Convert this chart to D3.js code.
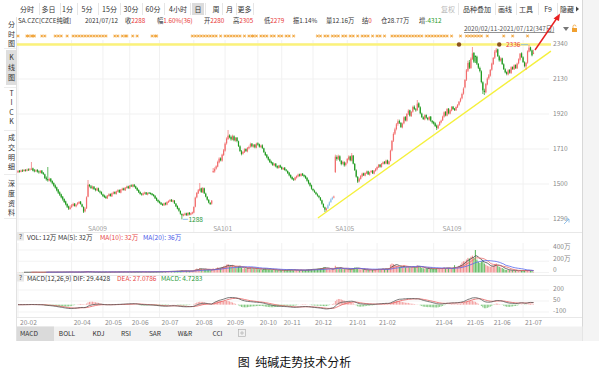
<!DOCTYPE html>
<html><head><meta charset="utf-8">
<script src="https://cdn.jsdelivr.net/npm/d3@7"></script>
<style>body{margin:0;background:#fff;overflow:hidden}svg text{font-family:"Noto Sans CJK SC","Noto Sans",sans-serif}</style>
</head><body><svg id="c" width="599" height="375"></svg>
<script>
// ---- DATA (daily, 2020/02/11 - 2021/07/12, 347 trading days) ----
const closes = [
1578,1572,1580,1576,1584,1580,1586,1582,1588,1592,1580,1576,1582,1574,
1570,1578,1566,1560,1536,1528,1522,1530,1516,1504,1490,1478,1462,1448,1436,1420,1408,1392,1378,1364,1352,1360,
1372,1380,1368,1376,1386,1392,1380,1364,1334,1352,1420,1496,1488,1476,1484,1470,1464,1474,1458,1450,1440,
1428,1422,1416,1430,1438,1428,1444,1450,1442,1456,1462,1450,1466,1472,1464,1478,1484,1476,
1490,1486,1494,1484,1474,1462,1450,1440,1436,1444,1448,1438,1446,1444,1440,1434,1428,1414,1402,1394,
1386,1378,1374,1384,1378,1392,1398,1404,1396,1402,1384,1366,1352,1340,1322,1312,1318,1322,1314,1326,1318,1324,1330,
1362,1418,1446,1462,1472,1452,1476,1444,1424,1406,1388,1380,1400,1578,1590,1606,1632,1652,1642,1676,1702,
1742,1772,1790,1780,1768,1788,1762,1776,1758,1728,1698,1680,1692,1708,1698,1716,1722,1740,1726,1734,1720,1742,
1736,1724,1730,1716,1692,1674,1660,1646,1632,1626,1614,1620,1606,1598,1610,1600,
1590,1596,1584,1580,1566,1552,1540,1530,1526,1540,1548,1556,1550,1560,1552,1546,1536,1520,1504,1490,1472,
1462,1452,1440,1430,1420,1404,1382,1362,1346,1352,1372,1390,1408,1418,1424,1664,1650,1668,1640,1620,1632,1612,1626,
1650,1664,1642,1672,1622,1584,1544,1514,1532,1548,1562,1552,1566,1574,1558,1570,1578,1564,1580,1590,
1602,1614,1604,1622,1630,1624,1640,1622,1636,1700,1758,1800,1828,1858,1876,
1868,1842,1862,1900,1882,1920,1940,1910,1932,1962,1950,1942,1982,1962,1924,1902,1890,1912,1898,1888,1902,1880,1870,
1862,1848,1836,1852,1872,1880,1904,1930,1912,1950,1924,1942,1962,1950,1944,1962,1974,1994,2012,2040,2072,
2124,2182,2226,2198,2252,2284,2234,2262,2222,2198,2178,2112,2062,2052,2100,2132,2152,2184,
2222,2256,2294,2306,2268,2242,2252,2220,2190,2170,2160,2182,2168,2200,2190,2212,2196,2222,2248,2282,2262,
2232,2208,2226,2296,2318,2304,2272,2288];
const opens = [
1570,1580,1574,1582,1578,1584,1580,1588,1584,1590,1594,1582,1576,1584,
1576,1568,1580,1568,1558,1538,1530,1520,1532,1518,1506,1492,1480,1466,1450,1438,1424,1410,1396,1380,1366,1350,
1362,1370,1382,1366,1378,1384,1394,1378,1362,1336,1354,1424,1494,1486,1474,1484,1470,1462,1474,1456,1452,
1438,1430,1424,1414,1428,1440,1426,1442,1452,1440,1454,1464,1448,1464,1474,1462,1476,1486,
1474,1492,1484,1496,1486,1476,1464,1452,1442,1434,1442,1450,1436,1448,1446,1442,1436,1430,1416,1404,
1396,1388,1380,1372,1386,1376,1390,1396,1406,1394,1400,1382,1368,1354,1338,1320,1310,1316,1324,1312,1328,1316,1322,
1328,1364,1420,1444,1460,1474,1450,1474,1442,1422,1404,1386,1382,1572,1576,1592,1604,1630,1654,1640,1674,
1700,1744,1770,1792,1782,1766,1786,1760,1778,1756,1726,1696,1682,1690,1710,1696,1714,1724,1742,1724,1736,1718,
1744,1738,1722,1732,1714,1690,1676,1662,1648,1634,1628,1612,1622,1608,1596,1612,
1602,1588,1598,1586,1578,1568,1554,1542,1532,1524,1538,1546,1558,1548,1562,1554,1548,1538,1522,1506,1492,
1470,1460,1450,1438,1428,1418,1402,1380,1360,1344,1354,1374,1392,1410,1420,1572,1662,1652,1666,1638,1622,1630,1614,
1628,1648,1666,1640,1670,1620,1582,1542,1516,1530,1546,1564,1550,1564,1576,1556,1572,1580,1562,1578,
1588,1600,1616,1602,1620,1632,1622,1642,1620,1640,1702,1760,1802,1830,1860,
1878,1866,1840,1864,1902,1880,1922,1942,1908,1934,1964,1948,1944,1984,1960,1922,1900,1888,1914,1896,1886,1904,1878,
1872,1864,1850,1834,1854,1870,1882,1904,1932,1910,1952,1922,1940,1964,1952,1942,1960,1976,1996,2014,2042,
2080,2126,2180,2230,2196,2250,2286,2268,2264,2220,2196,2176,2110,2060,2050,2098,2134,2150,
2186,2220,2258,2292,2308,2266,2240,2254,2218,2188,2172,2158,2184,2166,2202,2188,2214,2194,2224,2246,2284,
2260,2230,2206,2228,2294,2320,2302,2280];
const highs = [
1584,1584,1586,1588,1590,1590,1592,1594,1596,1632,1598,1590,1588,1590,
1582,1584,1584,1572,1562,1546,1602,1538,1536,1522,1510,1498,1484,1470,1456,1442,1428,1414,1400,1384,1370,1372,
1380,1388,1386,1382,1392,1398,1398,1382,1366,1360,1426,1524,1500,1494,1490,1488,1476,1480,1478,1462,1456,
1442,1436,1430,1434,1444,1444,1448,1456,1456,1460,1468,1468,1470,1478,1478,1482,1490,1490,
1494,1498,1500,1500,1490,1480,1468,1456,1446,1450,1454,1452,1450,1452,1450,1446,1440,1432,1420,1408,
1400,1392,1384,1388,1390,1396,1402,1410,1410,1406,1404,1386,1372,1358,1342,1324,1322,1328,1328,1330,1332,1328,1334,
1366,1424,1452,1470,1506,1478,1482,1478,1448,1428,1410,1392,1404,1596,1600,1612,1640,1660,1660,1682,1710,
1750,1780,1824,1798,1790,1796,1792,1782,1782,1760,1732,1704,1698,1714,1714,1722,1730,1748,1746,1740,1740,1748,
1750,1742,1736,1738,1718,1694,1680,1666,1652,1640,1632,1626,1626,1612,1614,1616,
1606,1600,1602,1590,1582,1572,1558,1546,1536,1544,1552,1562,1562,1566,1566,1558,1552,1540,1526,1510,1496,
1474,1466,1454,1444,1434,1422,1406,1384,1364,1358,1378,1396,1414,1424,1430,1676,1672,1676,1672,1644,1640,1636,1632,
1656,1672,1670,1686,1674,1626,1588,1548,1538,1554,1568,1568,1570,1580,1580,1574,1584,1584,1584,1596,
1606,1620,1620,1626,1636,1638,1646,1646,1640,1706,1764,1810,1838,1866,1888,
1886,1872,1868,1906,1908,1926,1948,1946,1938,1970,1972,1956,2004,1990,1966,1928,1906,1918,1918,1902,1908,1908,1884,
1878,1870,1856,1858,1876,1886,1910,1936,1938,1956,1956,1948,1968,1968,1956,1966,1980,1998,2018,2048,2080,
2130,2190,2240,2244,2260,2322,2292,2272,2270,2226,2204,2182,2116,2072,2106,2140,2160,2190,
2228,2262,2304,2316,2312,2272,2260,2258,2224,2194,2176,2188,2190,2206,2206,2218,2218,2228,2254,2286,2290,
2266,2236,2232,2302,2336,2324,2306,2305];
const lows = [
1566,1568,1570,1572,1574,1574,1576,1578,1580,1584,1576,1570,1572,1568,
1562,1564,1560,1554,1530,1520,1514,1516,1510,1498,1484,1472,1456,1440,1428,1414,1400,1386,1372,1356,1344,1346,
1356,1366,1364,1360,1372,1380,1376,1360,1326,1330,1350,1420,1480,1470,1468,1464,1456,1458,1452,1444,1434,
1422,1416,1410,1410,1424,1424,1422,1438,1438,1436,1450,1446,1444,1460,1460,1458,1472,1470,
1470,1482,1480,1480,1470,1458,1446,1436,1430,1430,1438,1434,1432,1440,1436,1430,1424,1410,1398,1388,
1382,1374,1368,1368,1372,1372,1386,1392,1392,1390,1380,1362,1348,1334,1316,1288,1306,1310,1308,1308,1312,1312,1318,
1324,1360,1414,1440,1456,1446,1446,1440,1420,1400,1384,1374,1376,1566,1568,1586,1600,1624,1636,1634,1668,
1694,1736,1764,1774,1760,1762,1756,1754,1750,1722,1692,1672,1676,1686,1692,1690,1708,1718,1720,1718,1714,1714,
1730,1718,1716,1710,1686,1668,1654,1640,1626,1618,1608,1606,1600,1592,1592,1596,
1584,1584,1580,1574,1560,1546,1534,1524,1518,1520,1532,1540,1544,1544,1548,1540,1530,1514,1498,1484,1466,
1456,1446,1434,1424,1414,1398,1376,1356,1332,1338,1350,1368,1386,1404,1414,1566,1640,1644,1634,1612,1616,1604,1606,
1622,1642,1636,1636,1618,1578,1538,1506,1510,1526,1540,1548,1546,1560,1554,1550,1566,1560,1558,1574,
1582,1596,1598,1598,1616,1618,1618,1618,1614,1636,1696,1752,1794,1822,1850,
1860,1836,1834,1858,1876,1874,1914,1904,1902,1928,1944,1934,1938,1956,1918,1896,1884,1882,1892,1882,1880,1874,1862,
1856,1842,1824,1830,1848,1864,1878,1898,1906,1906,1918,1918,1936,1944,1938,1938,1956,1970,1990,2008,2036,
2074,2118,2172,2190,2190,2244,2226,2226,2214,2190,2170,2104,2040,2034,2044,2092,2126,2144,
2180,2214,2250,2286,2262,2234,2234,2214,2184,2164,2152,2152,2162,2160,2184,2184,2190,2190,2218,2240,2256,
2226,2200,2184,2222,2290,2296,2266,2279];
// volume, unit 万手
const volumes = [
4,3,5,4,6,5,4,6,5,8,6,4,5,4,
5,6,4,5,8,7,9,6,7,8,6,7,9,8,7,9,8,10,9,8,10,9,
8,9,7,8,10,9,8,10,12,15,20,14,10,9,8,9,7,8,9,8,9,
8,9,10,8,9,11,10,12,9,10,11,13,12,10,11,12,10,11,
12,10,11,13,12,14,11,10,12,13,11,12,10,11,13,12,14,13,15,14,
14,16,15,18,16,20,22,18,24,20,22,25,28,24,30,35,28,26,30,24,28,26,30,
40,60,70,55,80,65,50,60,55,45,50,40,48,70,60,75,90,80,85,100,110,
120,140,150,110,100,130,90,95,80,110,120,90,70,80,75,85,80,90,70,75,65,80,
60,55,65,50,70,75,60,55,60,50,45,50,48,40,45,42,
40,38,45,42,50,55,48,45,40,50,42,38,40,45,42,38,44,50,55,52,60,
62,55,60,65,70,75,80,90,95,70,65,60,55,70,60,120,90,80,75,70,65,60,62,
55,60,58,70,80,90,85,70,60,55,50,52,48,50,45,48,50,46,52,55,
60,65,55,62,70,60,72,65,70,140,160,150,130,120,110,
100,110,95,120,90,100,110,95,90,100,95,85,130,120,100,80,75,70,72,68,70,65,66,
70,65,80,75,70,60,80,90,75,85,80,70,75,80,130,90,100,120,140,180,200,
200,230,260,250,280,300,260,400,230,190,170,200,220,160,140,120,110,100,
110,120,150,160,120,100,90,80,65,48,45,44,42,40,38,36,34,33,26,38,34,
36,32,34,40,42,34,32,12];
const monthLabels = ["20-02","20-04","20-05","20-06","20-07","20-08","20-09","20-10","20-11","20-12","21-01","21-02","21-04","21-05","21-06","21-07"];
const monthStartIdx = [0,36,57,75,95,118,139,161,177,198,221,241,279,300,318,339];
const contracts = ["SA009","SA101","SA105","SA109"];
const contractIdx = [47,131,213,285];
const priceTicks = [2340,2130,1920,1710,1500,1290];
const volTicks = [400,200,0];
const volTickLabels = ["400万","200万","0"];
const macdTicks = [200,50,-100];
const eventIdx = [0,6,7,9,10,11,16,18,25,27,29,33,37,39,41,43,45,47,49,51,53,55,57,59,65,67,70,72,73,77,80,90,92,93,117,119,121,123,125,127,129,131,133,136,139,141,143,145,147,149,152,155,157,158,160,163,165,167,170,172,175,177,180,182,185,201,203,206,208,211,213,215,218,220,223,225,228,231,233,235,238,241,243,246,251,253,255,257,259,261,263,265,267,269,271,274,276,278,280,282,284,286,288,291,297,301,303,305,307,309,311,315,326,332,342];
const blueIdx = [208,209,210,211];
const levelPrice = 2337;
const levelDotsIdx = [296,323];
const trendLine = [[201.3,1296],[357.7,2297]];
const periods = ["分时","多日","1分","5分","15分","30分","60分","4小时","日","周","月","更多"];
const tools = ["复权","品种叠加","画线","工具","F9","隐藏"];
const indicatorTabs = ["MACD","BOLL","KDJ","RSI","SAR","W&R","CCI"];
const sideMenu = [["分","时","图"],["K","线","图"],["T","I","C","K"],["成","交","明","细"],["深","度","资","料"]];
// quote row: [label, value, value colour]
const quote = [["SA.CZC[CZCE纯碱]","",""],["2021/07/12","",""],["收","2288","#e83838"],["幅","1.60%(36)","#e83838"],
 ["开","2280","#e83838"],["高","2305","#e83838"],["低","2279","#e83838"],["振","1.14%","#333"],["量","12.16万","#333"],
 ["结","0","#e83838"],["仓","28.77万","#333"],["增","-4312","#1f9a1f"]];

// ---- DRAW ----
const svg = d3.select("#c");
const UP="#f26d6d", DN="#1f9a1f";
const x = d3.scaleLinear().domain([0,346]).range([18,533.5]);
const yP = d3.scaleLinear().domain([1290,2340]).range([219,44]);
const yV = d3.scaleLinear().domain([0,400]).range([272.5,250]);
const yM = d3.scaleLinear().domain([-100,200]).range([312,290]);
const idx = d3.range(closes.length);
const fs = 6.6;

svg.append("rect").attr("width",599).attr("height",375).attr("fill","#fff");
svg.append("rect").attr("x",582.5).attr("y",0).attr("width",17).attr("height",341).attr("fill","#f4f4f4");
svg.append("line").attr("x1",582.5).attr("x2",582.5).attr("y1",0).attr("y2",341).attr("stroke","#d8d8d8");
svg.append("line").attr("x1",16.5).attr("x2",16.5).attr("y1",17).attr("y2",341).attr("stroke","#e2e2e2");

// toolbar row 1
const pCenters=[27,48.5,67.5,87,109.5,131,153,178,198,216,229.5,244.5];
svg.append("rect").attr("x",192).attr("y",3).attr("width",12).attr("height",12).attr("fill","#dcdcdc");
[39,60,77,98,120,142,164,190,205,222,236,253].forEach(v=>svg.append("line").attr("x1",v+0.5).attr("x2",v+0.5).attr("y1",3).attr("y2",15).attr("stroke","#e6e6e6"));
svg.selectAll(".per").data(periods).join("text").attr("x",(d,i)=>pCenters[i]).attr("y",11.5)
  .attr("text-anchor","middle").attr("font-size",7).attr("fill","#333").text(d=>d);
const tCenters=[448,477,505,526,548,567];
[458,495,516,538,557].forEach(v=>svg.append("line").attr("x1",v+0.5).attr("x2",v+0.5).attr("y1",3).attr("y2",15).attr("stroke","#e6e6e6"));
svg.selectAll(".tool").data(tools).join("text").attr("x",(d,i)=>tCenters[i]).attr("y",11.5)
  .attr("text-anchor","middle").attr("font-size",7).attr("fill",(d,i)=>i===0?"#b8b8b8":"#333").text(d=>d);
svg.append("path").attr("d","M576,6.5 L579,9 L576,11.5 Z").attr("fill","#444");

// quote row
const qX=[18,85,125,157,204,233,264,293,326,362,381,419];
quote.forEach((q,i)=>{
  const t=svg.append("text").attr("x",qX[i]).attr("y",23).attr("font-size",6.3).attr("fill","#333");
  t.append("tspan").text(q[0]);
  if(q[1]) t.append("tspan").attr("fill",q[2]).text(q[1]);
});

// side menu
svg.append("rect").attr("x",6).attr("y",50).attr("width",11).attr("height",35).attr("fill","#dedede");
const sideY=[[24,34,43],[57,67,77],[93,102,112,121],[137,147,157,166],[183,193,203,212]];
sideMenu.forEach((g,gi)=>g.forEach((c,ci)=>svg.append("text").attr("x",11.5).attr("y",sideY[gi][ci]+2.5)
  .attr("text-anchor","middle").attr("font-size",7).attr("fill","#333").text(c)));
[48,87,130,174,218].forEach(v=>svg.append("line").attr("x1",4).attr("x2",16).attr("y1",v+0.5).attr("y2",v+0.5).attr("stroke","#ececec"));

// grids
const gMain=svg.append("g");
priceTicks.forEach(p=>gMain.append("line").attr("x1",17).attr("x2",549).attr("y1",yP(p)).attr("y2",yP(p)).attr("stroke","#f1f1f1"));
monthStartIdx.forEach(i=>{
  gMain.append("line").attr("x1",x(i)).attr("x2",x(i)).attr("y1",40).attr("y2",232).attr("stroke","#f1f1f1");
  gMain.append("line").attr("x1",x(i)).attr("x2",x(i)).attr("y1",243).attr("y2",317).attr("stroke","#f1f1f1");
});
volTicks.forEach(v=>gMain.append("line").attr("x1",17).attr("x2",549).attr("y1",yV(v)).attr("y2",yV(v)).attr("stroke","#f3f3f3"));
macdTicks.forEach(v=>gMain.append("line").attr("x1",17).attr("x2",549).attr("y1",yM(v)).attr("y2",yM(v)).attr("stroke","#f3f3f3"));
[232.5,275.5,317.5].forEach(v=>svg.append("line").attr("x1",17).attr("x2",582).attr("y1",v).attr("y2",v).attr("stroke","#e8e8e8"));

// right axis labels
svg.selectAll(".pt").data(priceTicks).join("text").attr("x",553).attr("y",p=>yP(p)+2.3).attr("font-size",fs).attr("fill","#8a8a8a").text(d=>d);
svg.selectAll(".vt").data(volTicks).join("text").attr("x",553).attr("y",v=>yV(v)-0.7).attr("font-size",fs).attr("fill","#8a8a8a").text((d,i)=>volTickLabels[i]);
svg.selectAll(".mt").data(macdTicks).join("text").attr("x",553).attr("y",v=>yM(v)+1.3).attr("font-size",fs).attr("fill","#8a8a8a").text(d=>d);

// level line & trendline
svg.append("line").attr("x1",17).attr("x2",551).attr("y1",yP(levelPrice)).attr("y2",yP(levelPrice)).attr("stroke","#fbf27a").attr("stroke-width",2.6);
levelDotsIdx.forEach(i=>svg.append("circle").attr("cx",x(i)).attr("cy",yP(levelPrice)).attr("r",2.2).attr("fill","#8a5320"));
svg.append("line").attr("x1",x(trendLine[0][0])).attr("y1",yP(trendLine[0][1])).attr("x2",x(trendLine[1][0])).attr("y2",yP(trendLine[1][1]))
  .attr("stroke","#f5f03c").attr("stroke-width",1.4);

// event markers (small asterisks)
svg.selectAll(".ev").data(eventIdx).join("path")
  .attr("d",i=>{const cx=x(i),cy=36;return `M${cx-1.6},${cy}h3.2M${cx-0.9},${cy-1.4}l1.8,2.8M${cx+0.9},${cy-1.4}l-1.8,2.8`;})
  .attr("stroke","#f0a030").attr("stroke-width",0.8).attr("fill","none");

// candles
const gC=svg.append("g");
idx.forEach(i=>{
  const o=opens[i],c=closes[i];
  const col = blueIdx.includes(i) ? "#8cbfe8" : (c>=o?UP:DN);
  const hi=Math.max(highs[i],o,c), lo=Math.min(lows[i],o,c);
  gC.append("line").attr("x1",x(i)).attr("x2",x(i)).attr("y1",yP(hi)).attr("y2",yP(lo)).attr("stroke",col).attr("stroke-width",0.7);
  const t=yP(Math.max(o,c)), b=yP(Math.min(o,c));
  gC.append("rect").attr("x",x(i)-0.6).attr("width",1.2).attr("y",t).attr("height",Math.max(b-t,0.8)).attr("fill",col);
});

// max / min labels
const iMax=d3.maxIndex(highs), iMin=d3.minIndex(lows);
svg.append("line").attr("x1",x(iMax)-8).attr("x2",x(iMax)-1).attr("y1",yP(highs[iMax])).attr("y2",yP(highs[iMax])).attr("stroke","#7ab4e6").attr("stroke-width",0.8);
svg.append("text").attr("x",x(iMax)-8.5).attr("y",yP(highs[iMax])+2.3).attr("text-anchor","end").attr("font-size",fs).attr("fill","#e83838").text(highs[iMax]);
svg.append("line").attr("x1",x(iMin)+1).attr("x2",x(iMin)+6).attr("y1",yP(lows[iMin])).attr("y2",yP(lows[iMin])).attr("stroke","#7ab4e6").attr("stroke-width",0.8);
svg.append("text").attr("x",x(iMin)+6.5).attr("y",yP(lows[iMin])+2.3).attr("font-size",fs).attr("fill","#2a9a3a").text(lows[iMin]);

// contract labels
svg.selectAll(".ct").data(contracts).join("text").attr("x",(d,i)=>x(contractIdx[i])).attr("y",231).attr("font-size",fs).attr("fill","#a0a0a0").text(d=>d);

// date range
svg.append("text").attr("x",464).attr("y",31).attr("font-size",6.4).attr("fill","#555").attr("text-decoration","underline").text("2020/02/11-2021/07/12(347日)");
svg.append("path").attr("d","M563,27 L569,27 L566,31 Z").attr("fill","#777");
svg.append("rect").attr("x",572).attr("y",28).attr("width",5).attr("height",4).attr("fill","#f0a030");
svg.append("path").attr("d","M573,28 v-1.5 a1.5,1.5 0 0 1 3,0").attr("fill","none").attr("stroke","#f0a030").attr("stroke-width",0.8);

// panel headers
const hdr=(y,items)=>{
  svg.append("rect").attr("x",17).attr("y",y-5.5).attr("width",7).attr("height",8).attr("fill","#e8e8e8");
  svg.append("text").attr("x",20.5).attr("y",y+1).attr("text-anchor","middle").attr("font-size",fs).attr("fill","#555").text("?");
  items.forEach(d=>svg.append("text").attr("x",d[1]).attr("y",y+1.5).attr("font-size",fs).attr("fill",d[2]).text(d[0]));
};
hdr(238,[["VOL: 12万  MA(5): 32万",27,"#333"],["MA(10): 32万",100,"#e84848"],["MA(20): 36万",143,"#4a58e8"]]);
const gV=svg.append("g");
idx.forEach(i=>{
  const col=closes[i]>=opens[i]?"#f29494":"#62bb62";
  gV.append("rect").attr("x",x(i)-0.55).attr("width",1.1).attr("y",yV(volumes[i])).attr("height",yV(0)-yV(volumes[i])).attr("fill",col);
});
const ma=(arr,n)=>arr.map((v,i)=>i<n-1?null:d3.mean(arr.slice(i-n+1,i+1)));
[[5,"#444"],[10,"#ec6a6a"],[20,"#5566ee"]].forEach(([n,c])=>{
  const m=ma(volumes,n);
  svg.append("path").attr("fill","none").attr("stroke",c).attr("stroke-width",0.8)
    .attr("d",d3.line().defined(i=>m[i]!==null).x(i=>x(i)).y(i=>yV(m[i]))(idx));
});

// MACD panel
hdr(279,[["MACD(12,26,9)  DIF: 29.4428",27,"#333"],["DEA: 27.0786",117,"#e84848"],["MACD: 4.7283",161,"#2a9a3a"]]);
const ema=(arr,n)=>{const k=2/(n+1);let e=arr[0];return arr.map(v=>(e=e+(v-e)*k));};
const e12=ema(closes,12), e26=ema(closes,26);
const dif=closes.map((v,i)=>e12[i]-e26[i]);
const dea=ema(dif,9);
const hist=dif.map((v,i)=>2*(v-dea[i]));
const gM=svg.append("g");
idx.forEach(i=>gM.append("line").attr("x1",x(i)).attr("x2",x(i)).attr("y1",yM(0)).attr("y2",yM(hist[i]))
  .attr("stroke",hist[i]>=0?"#f29090":"#6cc06c").attr("stroke-width",0.9));
svg.append("path").attr("fill","none").attr("stroke","#e85a5a").attr("stroke-width",0.8).attr("d",d3.line().x(i=>x(i)).y(i=>yM(dea[i]))(idx));
svg.append("path").attr("fill","none").attr("stroke","#555").attr("stroke-width",0.8).attr("d",d3.line().x(i=>x(i)).y(i=>yM(dif[i]))(idx));

// month axis
svg.selectAll(".mo").data(monthLabels).join("text").attr("x",(d,i)=>x(monthStartIdx[i])+2).attr("y",324.5).attr("font-size",fs).attr("fill","#8a8a8a").text(d=>d);

// tab bar
svg.append("rect").attr("x",17).attr("y",326.5).attr("width",565.5).attr("height",14.5).attr("fill","#f1f1f1");
svg.append("rect").attr("x",17).attr("y",326.5).attr("width",37).attr("height",14.5).attr("fill","#dadada");
const tabX=[29,67,98.5,126,155,185,217.5];
svg.selectAll(".tab").data(indicatorTabs).join("text").attr("x",(d,i)=>tabX[i]).attr("y",336).attr("text-anchor","middle").attr("font-size",fs).attr("fill","#333").text(d=>d);
svg.append("rect").attr("x",238.5).attr("y",329.5).attr("width",7).attr("height",7).attr("fill","none").attr("stroke","#aaa").attr("stroke-width",0.6);
svg.append("path").attr("d","M242,331 v4 M240,333 h4").attr("stroke","#aaa").attr("stroke-width",0.6);

// red annotation arrow
svg.append("line").attr("x1",535).attr("y1",50).attr("x2",557).attr("y2",18).attr("stroke","#e82020").attr("stroke-width",1.4);
svg.append("path").attr("d","M560,13.5 L553.5,18.5 L559,21 Z").attr("fill","#e82020");
svg.append("path").attr("d","M564,224 l5,-5 M565.5,219 h3.5 v3.5").attr("stroke","#7ab4e6").attr("fill","none").attr("stroke-width",0.8);

// caption
svg.append("text").attr("x",294.5).attr("y",367).attr("text-anchor","middle").attr("font-size",12).attr("fill","#111").text("图\u00a0\u00a0纯碱走势技术分析");
</script></body></html>
